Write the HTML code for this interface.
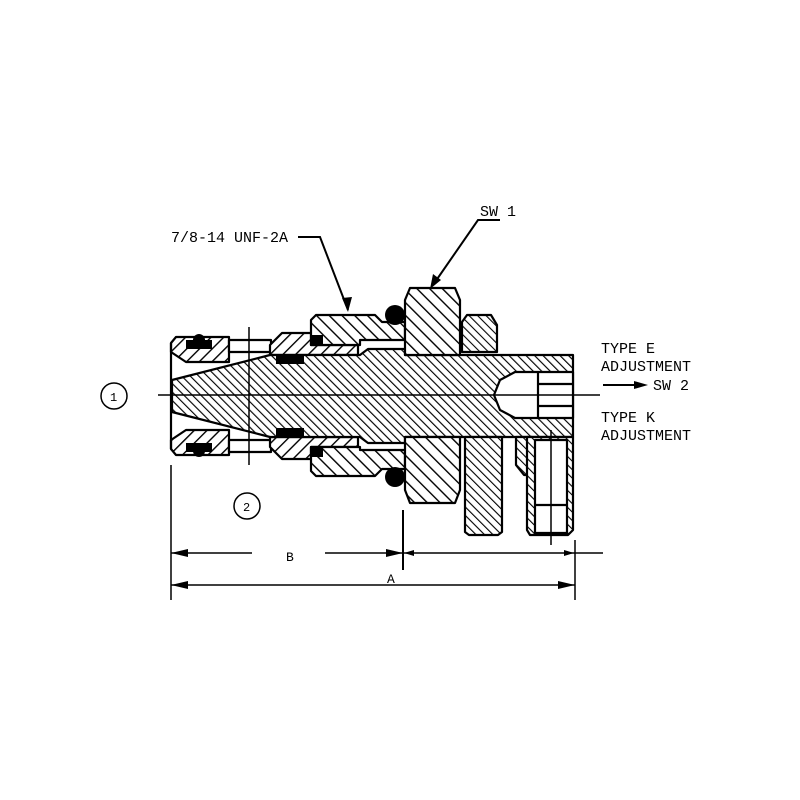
<!DOCTYPE html>
<html><head><style>html,body{margin:0;padding:0;background:#fff}svg{display:block}</style></head>
<body>
<svg width="800" height="800" viewBox="0 0 800 800" xmlns="http://www.w3.org/2000/svg" font-family="'Liberation Mono', monospace">
<defs>
<pattern id="hd" patternUnits="userSpaceOnUse" width="6" height="6" patternTransform="rotate(-45)">
<rect width="6" height="6" fill="#fff"/><line x1="0" y1="0" x2="0" y2="6" stroke="#000" stroke-width="2.3"/></pattern>
<pattern id="hw" patternUnits="userSpaceOnUse" width="9" height="9" patternTransform="rotate(-45)">
<rect width="9" height="9" fill="#fff"/><line x1="0" y1="0" x2="0" y2="9" stroke="#000" stroke-width="2.8"/></pattern>
<pattern id="hr" patternUnits="userSpaceOnUse" width="9" height="9" patternTransform="rotate(45)">
<rect width="9" height="9" fill="#fff"/><line x1="0" y1="0" x2="0" y2="9" stroke="#000" stroke-width="2.8"/></pattern>
<pattern id="hn" patternUnits="userSpaceOnUse" width="6" height="6" patternTransform="rotate(-45)">
<rect width="6" height="6" fill="#fff"/><line x1="0" y1="0" x2="0" y2="6" stroke="#000" stroke-width="2.2"/></pattern>
</defs>
<g stroke="#000" stroke-width="2.2" stroke-linejoin="round">
<path d="M176,337 H229 V362 H186 L171,352 V343 Z" fill="url(#hr)"/>
<path d="M176,455 H229 V430 H186 L171,440 V449 Z" fill="url(#hr)"/>
<line x1="171" y1="343" x2="171" y2="449"/>
<rect x="229" y="340" width="42" height="12" fill="#fff"/>
<rect x="229" y="440" width="42" height="12" fill="#fff"/>
<path d="M270,345 L282,333 H311 V345 H358 V355 H270 Z" fill="url(#hr)"/>
<path d="M270,447 L282,459 H311 V447 H358 V437 H270 Z" fill="url(#hr)"/>
<path d="M316,315 H375 L382,322 H405 V340 H360 V345 H311 V320 Z" fill="url(#hw)"/>
<path d="M316,476 H375 L382,469 H405 V450 H360 V447 H311 V471 Z" fill="url(#hw)"/>
<path d="M172,380 L270,355 H360 L368,349 H405 V355 H515 L520,355 H573 V437 H520 H405 V443 H368 L360,437 H270 L172,412 Z" fill="url(#hd)"/>
<path d="M410,288 H455 L460,300 V355 H405 V300 Z" fill="url(#hw)"/>
<path d="M405,437 H460 V490 L455,503 H410 L405,490 Z" fill="url(#hw)"/>
<path d="M467,315 H491 L497,325 V352 H462 V322 Z" fill="url(#hn)"/>
<path d="M465,437 H502 V532 L498,535 H469 L465,532 Z" fill="url(#hn)"/>
<path d="M516,437 H532 V475 L524,475 L516,465 Z" fill="url(#hn)"/>
<path d="M527,437 H573 V530 L568,535 H530 L527,530 Z" fill="url(#hn)"/>
<rect x="535" y="440" width="32" height="93" fill="#fff"/>
<line x1="535" y1="505" x2="567" y2="505"/>
<path d="M515,372 H573 V418 H515 L500,410 L494,395 L500,380 Z" fill="#fff"/>
<line x1="538" y1="372" x2="538" y2="418"/>
<line x1="538" y1="384" x2="573" y2="384"/>
<line x1="538" y1="406" x2="573" y2="406"/>
</g>
<g fill="#000">
<rect x="186" y="340" width="26" height="9"/><circle cx="199" cy="340" r="6"/>
<rect x="186" y="443" width="26" height="9"/><circle cx="199" cy="451" r="6"/>
<rect x="276" y="355" width="28" height="9"/><rect x="276" y="428" width="28" height="9"/>
<rect x="311" y="335" width="12" height="9"/><rect x="311" y="448" width="12" height="9"/>
<circle cx="395" cy="315" r="10"/><circle cx="395" cy="477" r="10"/>
</g>
<g stroke="#000" stroke-width="1.5" fill="none">
<line x1="158" y1="395" x2="600" y2="395"/>
<line x1="249" y1="327" x2="249" y2="465"/>
<line x1="551" y1="430" x2="551" y2="545"/>
<polyline points="298,237 320,237 348,310" stroke-width="2"/>
<polyline points="500,220 478,220 433,285" stroke-width="2"/>
<line x1="171" y1="465" x2="171" y2="600"/>
<line x1="403" y1="510" x2="403" y2="570" stroke-width="2"/>
<line x1="575" y1="540" x2="575" y2="600"/>
<line x1="171" y1="553" x2="252" y2="553"/>
<line x1="325" y1="553" x2="403" y2="553"/>
<line x1="403" y1="553" x2="603" y2="553"/>
<line x1="171" y1="585" x2="575" y2="585"/>
<line x1="603" y1="385" x2="640" y2="385" stroke-width="2"/>
<circle cx="114" cy="396" r="13"/>
<circle cx="247" cy="506" r="13"/>
</g>
<g fill="#000">
<polygon points="348,312 342,298 352,297"/>
<polygon points="430,289 433,274 441,280"/>
<polygon points="171,553 188,549 188,557"/>
<polygon points="403,553 386,549 386,557"/>
<polygon points="404,553 414,550 414,556"/>
<polygon points="574,553 564,550 564,556"/>
<polygon points="171,585 188,581 188,589"/>
<polygon points="575,585 558,581 558,589"/>
<polygon points="648,385 634,381 634,389"/>
</g>
<g font-size="15" fill="#000">
<text x="171" y="242">7/8-14 UNF-2A</text>
<text x="480" y="216">SW 1</text>
<text x="601" y="353">TYPE E</text>
<text x="601" y="371">ADJUSTMENT</text>
<text x="653" y="390">SW 2</text>
<text x="601" y="422">TYPE K</text>
<text x="601" y="440">ADJUSTMENT</text>
<text x="286" y="561" font-size="13">B</text>
<text x="387" y="583" font-size="13">A</text>
<text x="110" y="401" font-size="12">1</text>
<text x="243" y="511" font-size="12">2</text>
</g>
</svg>
</body></html>
